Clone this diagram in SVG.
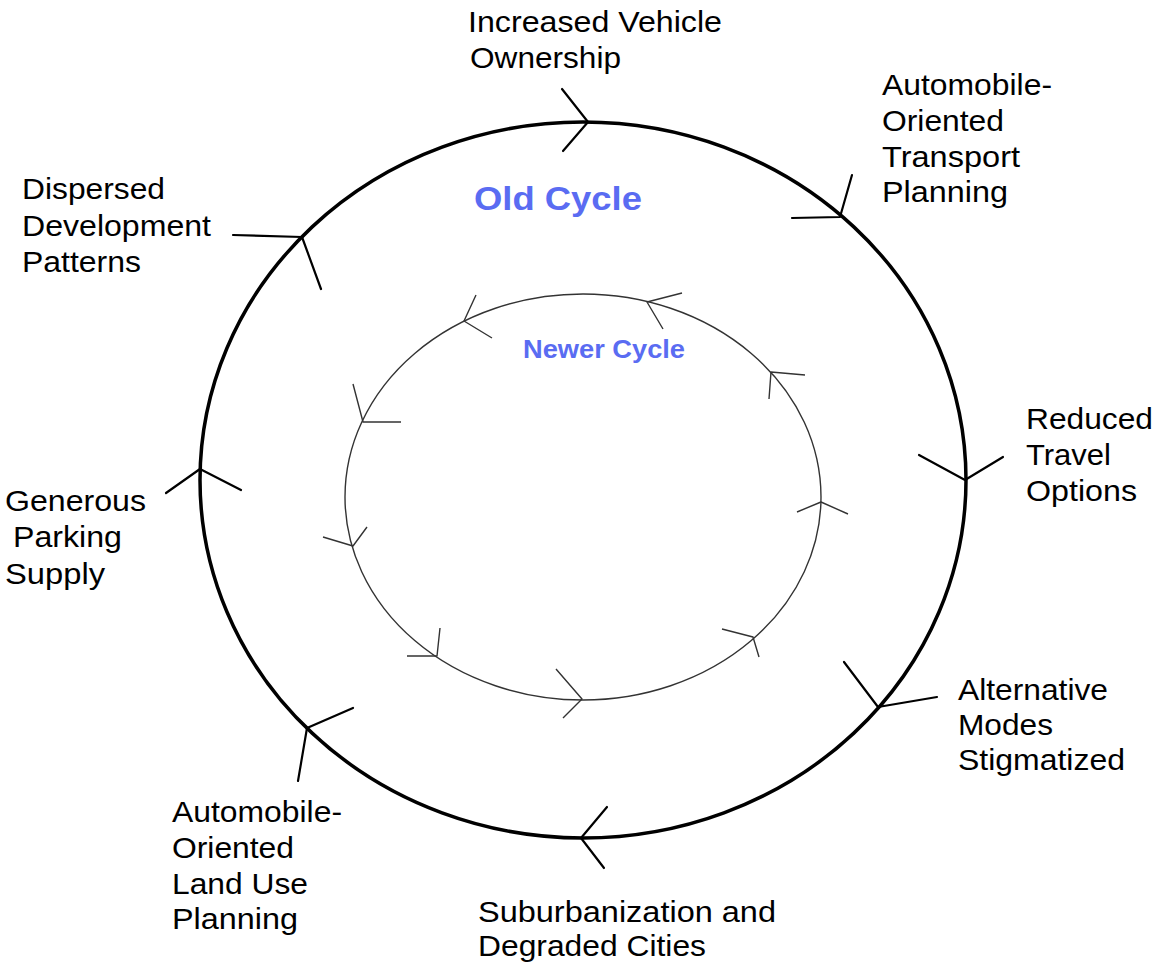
<svg xmlns="http://www.w3.org/2000/svg" width="1157" height="964" viewBox="0 0 1157 964">
<style>
.lbl{font-family:"Liberation Sans",Arial,sans-serif;font-size:30px;fill:#000}
.old{font-family:"Liberation Sans",Arial,sans-serif;font-size:33px;font-weight:bold;fill:#5a6cf2}
.new{font-family:"Liberation Sans",Arial,sans-serif;font-size:25px;font-weight:bold;fill:#5a6cf2}
.oc{fill:none;stroke:#000;stroke-width:3.5}
.oa{fill:none;stroke:#000;stroke-width:2.2;stroke-linecap:round;stroke-linejoin:round}
.ic{fill:none;stroke:#333;stroke-width:1.4}
.ia{fill:none;stroke:#333;stroke-width:1.4;stroke-linejoin:round}
</style>
<rect width="1157" height="964" fill="#fff"/>
<g id="connectors">
<ellipse class="oc" cx="583" cy="480" rx="383" ry="358"/>
<polyline class="oa" points="562,89 588,122 563,151"/>
<polyline class="oa" points="852,175 840,217 792,218"/>
<polyline class="oa" points="919,455 965,480 1003,457"/>
<polyline class="oa" points="844,662 878,707 937,697"/>
<polyline class="oa" points="607,807 581,838 604,868"/>
<polyline class="oa" points="353,708 307,728 298,781"/>
<polyline class="oa" points="166,493 200,469 241,490"/>
<polyline class="oa" points="233,235 302,237 321,289"/>
<ellipse class="ic" cx="583" cy="497" rx="238" ry="203"/>
<polyline class="ia" points="476,295 464,321 492,338"/>
<polyline class="ia" points="682,293 647,302 663,329"/>
<polyline class="ia" points="353,384 363,422 401,422"/>
<polyline class="ia" points="323,537 353,546 367,527"/>
<polyline class="ia" points="805,375 771,372 769,399"/>
<polyline class="ia" points="797,512 821,502 848,514"/>
<polyline class="ia" points="440,628 437,656 407,656"/>
<polyline class="ia" points="556,669 582,699 563,718"/>
<polyline class="ia" points="722,629 753,637 759,657"/>
</g>
<g id="title-old"><text class="old" x="474" y="210" textLength="168" lengthAdjust="spacingAndGlyphs">Old Cycle</text></g>
<g id="title-new"><text class="new" x="523" y="358" textLength="162" lengthAdjust="spacingAndGlyphs">Newer Cycle</text></g>
<g id="n-vehicle">
<text class="lbl" x="468" y="32" textLength="254" lengthAdjust="spacingAndGlyphs">Increased Vehicle</text>
<text class="lbl" x="470" y="68" textLength="151" lengthAdjust="spacingAndGlyphs">Ownership</text>
</g>
<g id="n-transport">
<text class="lbl" x="882" y="95" textLength="170" lengthAdjust="spacingAndGlyphs">Automobile-</text>
<text class="lbl" x="882" y="131" textLength="122" lengthAdjust="spacingAndGlyphs">Oriented</text>
<text class="lbl" x="882" y="167" textLength="138" lengthAdjust="spacingAndGlyphs">Transport</text>
<text class="lbl" x="882" y="202" textLength="126" lengthAdjust="spacingAndGlyphs">Planning</text>
</g>
<g id="n-travel">
<text class="lbl" x="1026" y="429" textLength="127" lengthAdjust="spacingAndGlyphs">Reduced</text>
<text class="lbl" x="1026" y="465" textLength="85" lengthAdjust="spacingAndGlyphs">Travel</text>
<text class="lbl" x="1026" y="501" textLength="111" lengthAdjust="spacingAndGlyphs">Options</text>
</g>
<g id="n-modes">
<text class="lbl" x="958" y="700" textLength="150" lengthAdjust="spacingAndGlyphs">Alternative</text>
<text class="lbl" x="958" y="735" textLength="95" lengthAdjust="spacingAndGlyphs">Modes</text>
<text class="lbl" x="958" y="770" textLength="167" lengthAdjust="spacingAndGlyphs">Stigmatized</text>
</g>
<g id="n-suburb">
<text class="lbl" x="478" y="922" textLength="298" lengthAdjust="spacingAndGlyphs">Suburbanization and</text>
<text class="lbl" x="478" y="956" textLength="228" lengthAdjust="spacingAndGlyphs">Degraded Cities</text>
</g>
<g id="n-landuse">
<text class="lbl" x="172" y="822" textLength="170" lengthAdjust="spacingAndGlyphs">Automobile-</text>
<text class="lbl" x="172" y="858" textLength="122" lengthAdjust="spacingAndGlyphs">Oriented</text>
<text class="lbl" x="172" y="894" textLength="136" lengthAdjust="spacingAndGlyphs">Land Use</text>
<text class="lbl" x="172" y="929" textLength="126" lengthAdjust="spacingAndGlyphs">Planning</text>
</g>
<g id="n-parking">
<text class="lbl" x="5" y="511" textLength="141" lengthAdjust="spacingAndGlyphs">Generous</text>
<text class="lbl" x="13" y="547" textLength="109" lengthAdjust="spacingAndGlyphs">Parking</text>
<text class="lbl" x="5" y="584" textLength="100" lengthAdjust="spacingAndGlyphs">Supply</text>
</g>
<g id="n-dispersed">
<text class="lbl" x="22" y="199" textLength="143" lengthAdjust="spacingAndGlyphs">Dispersed</text>
<text class="lbl" x="22" y="236" textLength="189" lengthAdjust="spacingAndGlyphs">Development</text>
<text class="lbl" x="22" y="272" textLength="119" lengthAdjust="spacingAndGlyphs">Patterns</text>
</g>
</svg>
